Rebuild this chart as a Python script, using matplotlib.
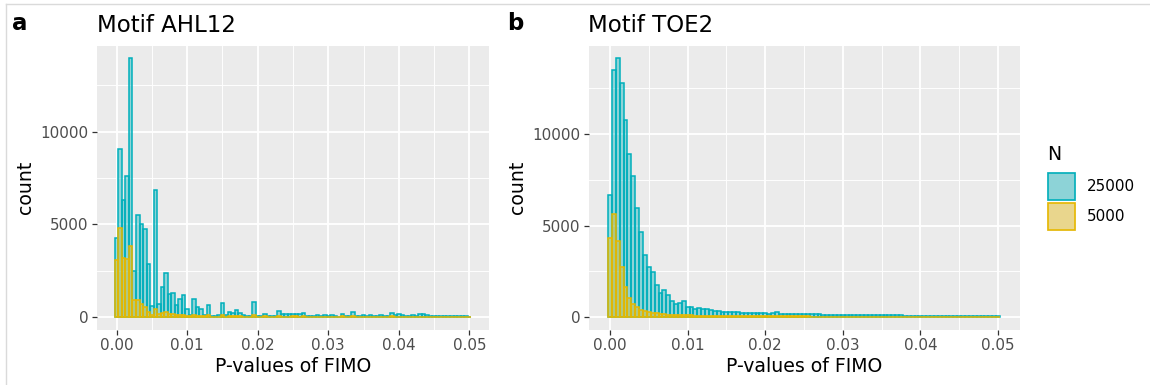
import numpy as np
import matplotlib.pyplot as plt
from matplotlib.patches import Rectangle
from matplotlib.lines import Line2D

# histogram counts, bins of width 0.0005 centred on 0, 0.0005, ..., 0.05
BIN = 0.0005

ahl12_n25000 = [
    4280, 9090, 6340, 7600, 13950, 2500, 5490, 5000, 4770, 2840,
    600, 6840, 700, 1620, 2400, 1220, 1280, 650, 980, 1170,
    410, 100, 970, 540, 450, 120, 630, 80, 70, 90,
    780, 90, 250, 230, 360, 230, 130, 70, 60, 810,
    70, 60, 180, 60, 50, 60, 320, 140, 150, 140,
    160, 180, 150, 200, 60, 80, 60, 100, 70, 110,
    70, 130, 60, 30, 180, 50, 60, 300, 70, 60,
    90, 70, 100, 60, 80, 130, 60, 70, 220, 100,
    150, 120, 60, 50, 90, 60, 140, 150, 120, 80,
    60, 50, 40, 60, 50, 40, 50, 40, 50, 40,
    30,
]
ahl12_n5000 = [
    3060, 4800, 3200, 3150, 3830, 900, 940, 720, 540, 270,
    120, 450, 150, 200, 250, 170, 150, 100, 120, 130,
    60, 40, 110, 80, 70, 40, 90, 30, 30, 30,
    110, 30, 50, 40, 60, 40, 30, 30, 30, 110,
    30, 30, 40, 30, 30, 30, 60, 30, 30, 30,
    40, 40, 30, 40, 30, 30, 30, 30, 30, 30,
    30, 30, 30, 20, 40, 30, 30, 60, 30, 30,
    30, 30, 30, 30, 30, 30, 30, 30, 40, 30,
    30, 30, 30, 30, 30, 30, 30, 30, 30, 30,
    30, 30, 30, 30, 30, 30, 30, 30, 30, 30,
    20,
]
toe2_n25000 = [
    6660, 13500, 14140, 12780, 10770, 8940, 7700, 5990, 4650, 3410,
    2740, 2460, 1730, 1310, 1460, 1190, 860, 730, 770, 880,
    550, 550, 420, 510, 460, 440, 400, 330, 330, 300,
    290, 280, 270, 260, 240, 230, 240, 220, 210, 200,
    200, 190, 200, 280, 190, 180, 170, 170, 160, 160,
    150, 150, 150, 150, 170, 140, 140, 130, 130, 130,
    120, 120, 120, 110, 110, 110, 100, 100, 100, 100,
    100, 90, 90, 90, 90, 90, 80, 80, 80, 80,
    80, 80, 80, 70, 70, 70, 70, 70, 70, 70,
    70, 60, 60, 60, 60, 60, 60, 60, 60, 60,
    50,
]
toe2_n5000 = [
    4340, 5660, 4160, 2740, 1640, 1060, 730, 550, 400, 330,
    270, 230, 200, 180, 160, 140, 130, 120, 110, 100,
    90, 90, 80, 80, 70, 70, 60, 60, 60, 60,
    50, 50, 50, 50, 50, 50, 50, 40, 40, 40,
    40, 40, 40, 50, 40, 40, 40, 40, 40, 40,
    40, 40, 30, 30, 30, 30, 30, 30, 30, 30,
    30, 30, 30, 30, 30, 30, 30, 30, 30, 30,
    30, 30, 30, 30, 30, 30, 30, 30, 30, 30,
    30, 30, 30, 30, 30, 30, 30, 30, 30, 30,
    30, 30, 30, 30, 30, 30, 30, 30, 30, 30,
    20,
]

x_ticks = [0.0, 0.01, 0.02, 0.03, 0.04, 0.05]
x_ticklabels = ["0.00", "0.01", "0.02", "0.03", "0.04", "0.05"]
y_ticks = [0, 5000, 10000]
legend_labels = ["25000", "5000"]

CYAN = "#00AFBB"
GOLD = "#E7B800"
ALPHA = 0.4
PANEL_BG = "#EBEBEB"
TXT = "#4D4D4D"

W, H = 1150, 385
fig = plt.figure(figsize=(W / 100, H / 100), dpi=100)


def fill(c):
    r, g, b = plt.matplotlib.colors.to_rgb(c)
    return (r, g, b, ALPHA)


def draw_panel(ax, n_big, n_small, title):
    x = np.arange(len(n_big)) * BIN
    ax.bar(x, n_big, width=BIN, facecolor=fill(CYAN), edgecolor=CYAN, linewidth=1.1)
    ax.bar(x, n_small, width=BIN, facecolor=fill(GOLD), edgecolor=GOLD, linewidth=1.1)

    span = x[-1] - x[0] + BIN
    ax.set_xlim(x[0] - BIN / 2 - 0.05 * span, x[-1] + BIN / 2 + 0.05 * span)
    ymax = max(n_big)
    ax.set_ylim(-0.05 * ymax, 1.05 * ymax)

    ax.set_facecolor(PANEL_BG)
    for s in ax.spines.values():
        s.set_visible(False)
    ax.set_axisbelow(True)

    ax.set_xticks(x_ticks)
    ax.set_xticklabels(x_ticklabels)
    ax.set_xticks(np.arange(0.005, 0.05, 0.01), minor=True)
    ax.set_yticks(y_ticks)
    ax.set_yticks([2500, 7500, 12500], minor=True)
    ax.grid(True, which="major", color="white", linewidth=1.3)
    ax.grid(True, which="minor", color="white", linewidth=0.65)
    ax.tick_params(which="major", length=3.4, width=0.9, color="#333333",
                   labelsize=10.9, labelcolor=TXT, pad=2.5)
    ax.tick_params(which="minor", length=0)

    ax.set_xlabel("P-values of FIMO", fontsize=13.6, labelpad=3)
    ax.set_ylabel("count", fontsize=13.6, labelpad=4)
    ax.set_title(title, loc="left", fontsize=16.5, pad=10)


bottom, height = 55 / H, 284.5 / H
ax_a = fig.add_axes([97 / W, bottom, 392 / W, height])
ax_b = fig.add_axes([588.5 / W, bottom, 431 / W, height])
draw_panel(ax_a, ahl12_n25000, ahl12_n5000, "Motif AHL12")
draw_panel(ax_b, toe2_n25000, toe2_n5000, "Motif TOE2")

# panel tags
fig.text(12 / W, 1 - 30.5 / H, "a", fontsize=16.5, fontweight="bold", va="baseline")
fig.text(507 / W, 1 - 30.5 / H, "b", fontsize=16.5, fontweight="bold", va="baseline")

# legend drawn by hand, ggplot style
fig.text(1047 / W, 1 - 155 / H, "N", fontsize=13.6, va="center", ha="left")
for i, (lab, c) in enumerate(zip(legend_labels, [CYAN, GOLD])):
    y0 = 1 - (201 + i * 30) / H
    fig.add_artist(Rectangle((1047 / W, y0), 29 / W, 29 / H, transform=fig.transFigure,
                             facecolor=PANEL_BG, edgecolor="none"))
    fig.add_artist(Rectangle((1048 / W, y0 + 1 / H), 27 / W, 27 / H, transform=fig.transFigure,
                             facecolor=fill(c), edgecolor=c, linewidth=1.2))
    fig.text(1087 / W, y0 + 14.5 / H, lab, fontsize=10.9, va="center", ha="left")

# faint frame of the original image (left and top edges)
fig.add_artist(Line2D([6 / W, 6 / W], [0, 1 - 4 / H], transform=fig.transFigure,
                      color="#DADADA", linewidth=1))
fig.add_artist(Line2D([6 / W, 1], [1 - 4 / H, 1 - 4 / H], transform=fig.transFigure,
                      color="#DADADA", linewidth=1))

fig.savefig("out.png", dpi=100)
